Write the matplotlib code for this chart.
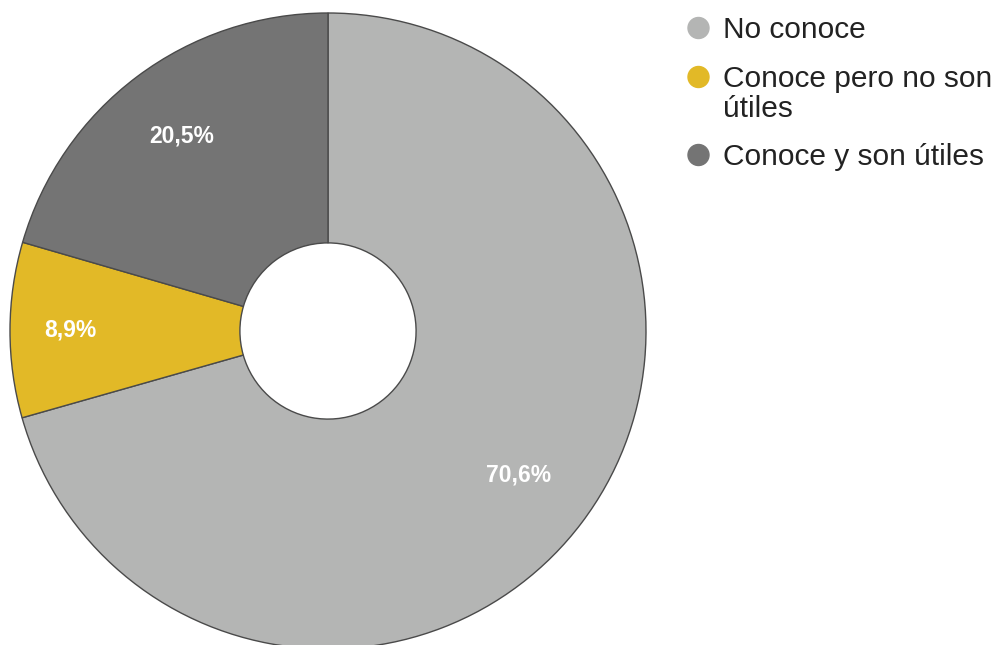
import numpy as np
import matplotlib.pyplot as plt
from matplotlib.patches import Ellipse

# ── Data ──────────────────────────────────────────────────────────────────────
labels = ["No conoce", "Conoce pero no son\nútiles", "Conoce y son útiles"]
values = [70.6, 8.9, 20.5]
colors = ["#b4b5b4", "#e2b927", "#747474"]

plt.rcParams["font.family"] = ["Liberation Sans", "DejaVu Sans"]

W, H = 1002, 645
fig = plt.figure(figsize=(W / 100, H / 100), dpi=100)

# pie centre ~(328, 331) px, radius ~318 px
cx, cy, r = 328, 331, 318
ax = fig.add_axes([(cx - r) / W, (H - cy - r) / H, 2 * r / W, 2 * r / H])

wedges, texts, autotexts = ax.pie(
    values, colors=colors, startangle=90, counterclock=False,
    radius=1.0, pctdistance=0.77,
    autopct=lambda p: f"{p:.1f}%".replace(".", ","),
    wedgeprops=dict(width=1 - 0.277, edgecolor="#4a4a4a", linewidth=1.0),
    textprops=dict(color="white", fontsize=16.5, fontweight="bold"),
)

# label radius per wedge (as in reference)
label_dist = [0.75, 0.81, 0.765]
for w, t, d in zip(wedges, autotexts, label_dist):
    ang = np.deg2rad((w.theta1 + w.theta2) / 2)
    t.set_position((d * np.cos(ang), d * np.sin(ang)))

ax.set_xlim(-1, 1)
ax.set_ylim(-1, 1)
ax.set_aspect("equal")
ax.axis("off")

# ── Legend (drawn by hand to match wrapped layout) ────────────────────────────
marker_y = [28, 77, 155]
for lab, col, y in zip(labels, colors, marker_y):
    fig.add_artist(Ellipse((698.5 / W, 1 - y / H), 21 / W, 21 / H,
                           color=col, transform=fig.transFigure))
    for i, line in enumerate(lab.split("\n")):
        base = y + 10 + 30 * i
        fig.text(723 / W, 1 - base / H, line, color="#222222", fontsize=21.5,
                 ha="left", va="baseline")

fig.savefig("out.png", dpi=100)
